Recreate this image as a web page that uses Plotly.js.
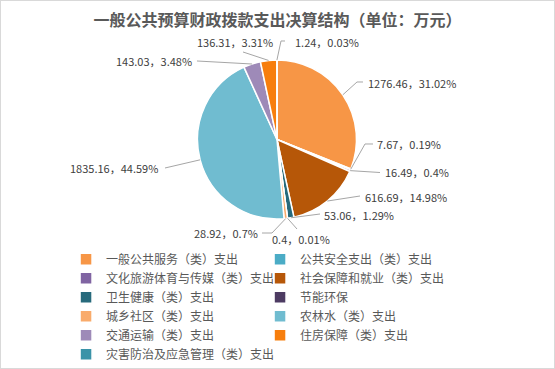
<!DOCTYPE html>
<html>
<head>
<meta charset="utf-8">
<script src="https://cdn.plot.ly/plotly-3.0.1.min.js"></script>
<style>
html,body{margin:0;padding:0;background:#fff;}
#wrap{position:relative;width:555px;height:369px;}
#chart{position:absolute;left:0;top:0;width:555px;height:369px;}
#frame{position:absolute;left:0;top:0;width:555px;height:369px;border:1px solid #d9d9d9;box-sizing:border-box;pointer-events:none;}
</style>
</head>
<body>
<div id="wrap"><div id="chart"></div><div id="frame"></div></div>
<script>
// ---- data ----
const categories = [
  "一般公共服务（类）支出",
  "公共安全支出（类）支出",
  "文化旅游体育与传媒（类）支出",
  "社会保障和就业（类）支出",
  "卫生健康（类）支出",
  "节能环保",
  "城乡社区（类）支出",
  "农林水（类）支出",
  "交通运输（类）支出",
  "住房保障（类）支出",
  "灾害防治及应急管理（类）支出"
];
const values = [1276.46, 7.67, 16.49, 616.69, 53.06, 0.4, 28.92, 1835.16, 143.03, 136.31, 1.24];
const valueLabels = ["1276.46", "7.67", "16.49", "616.69", "53.06", "0.4", "28.92", "1835.16", "143.03", "136.31", "1.24"];
const percentLabels = ["31.02%", "0.19%", "0.4%", "14.98%", "1.29%", "0.01%", "0.7%", "44.59%", "3.48%", "3.31%", "0.03%"];

// ---- styles / layout constants ----
const colors = ["#F79646", "#4BACC6", "#8064A2", "#B65708", "#276A7C", "#4D3B62", "#F9AB6B", "#70BCD0", "#9E8AB8", "#F77E0D", "#3A93A8"];
const W = 555, H = 369;
const CX = 277, CY = 139.5, R = 79.5;   // pie centre / radius in px
// data-label placement (px): text anchor point + leader-line points (label side first)
const labelPlace = [
  {x: 366, y: 83,  anchor: "left",  pts: [[363, 82], [357, 82]]},
  {x: 375, y: 144, anchor: "left",  pts: [[373, 144], [365, 144]]},
  {x: 383, y: 172, anchor: "left",  pts: [[380, 172.5]]},
  {x: 363, y: 197, anchor: "left",  pts: [[360, 196]]},
  {x: 322, y: 215, anchor: "left",  pts: [[320, 214]]},
  {x: 270, y: 239, anchor: "left",  pts: [[297, 229]]},
  {x: 260, y: 233, anchor: "right", pts: [[262, 233], [272, 233]]},
  {x: 160, y: 168, anchor: "right", pts: [[165, 168]]},
  {x: 194, y: 61,  anchor: "right", pts: [[197, 61]]},
  {x: 275, y: 42,  anchor: "right", pts: [[243, 52]]},
  {x: 293, y: 42,  anchor: "left",  pts: [[285, 41], [281, 41]]}
];

const px2x = v => v / W;
const px2y = v => 1 - v / H;

const total = values.reduce((a, b) => a + b, 0);
let cum = 0;
const annotations = [];
const shapes = [];
values.forEach((v, i) => {
  const mid = (cum + v / 2) / total;
  cum += v;
  const ang = mid * 2 * Math.PI;          // clockwise from 12 o'clock
  const ex = CX + R * Math.sin(ang);
  const ey = CY - R * Math.cos(ang);
  const p = labelPlace[i];
  const pts = p.pts.concat([[ex, ey]]);
  const path = pts.map((q, k) => (k === 0 ? "M" : "L") + px2x(q[0]).toFixed(5) + "," + px2y(q[1]).toFixed(5)).join(" ");
  shapes.push({type: "path", xref: "paper", yref: "paper", path: path,
               line: {color: "#A6A6A6", width: 1}});
  annotations.push({
    xref: "paper", yref: "paper",
    x: px2x(p.x), y: px2y(p.y),
    xanchor: p.anchor, yanchor: "middle",
    text: valueLabels[i] + "，" + percentLabels[i],
    showarrow: false,
    font: {family: "Noto Sans CJK SC", size: 11, color: "#404040"}
  });
});

const trace = {
  type: "pie",
  labels: categories,
  values: values,
  sort: false,
  direction: "clockwise",
  rotation: 0,
  textinfo: "none",
  textposition: "none",
  marker: {colors: colors, line: {color: "#ffffff", width: 1.5}},
  domain: {x: [(CX - R) / W, (CX + R) / W], y: [1 - (CY + R) / H, 1 - (CY - R) / H]},
  hoverinfo: "label+value+percent"
};

const layout = {
  width: W,
  height: H,
  margin: {l: 0, r: 0, t: 0, b: 0},
  paper_bgcolor: "#ffffff",
  font: {family: "Noto Sans CJK SC", color: "#595959"},
  title: {
    text: "<b>一般公共预算财政拨款支出决算结构（单位：万元）</b>",
    font: {family: "Noto Sans CJK SC", size: 16, color: "#595959"},
    x: 0.5, xanchor: "center", xref: "paper",
    y: px2y(20), yanchor: "middle", yref: "paper"
  },
  showlegend: true,
  legend: {
    orientation: "h",
    x: 0.119, xanchor: "left",
    y: 0.337, yanchor: "top",
    entrywidth: 149,
    entrywidthmode: "pixels",
    font: {family: "Noto Sans CJK SC", size: 12, color: "#595959"},
    traceorder: "normal",
    bgcolor: "rgba(0,0,0,0)"
  },
  annotations: annotations,
  shapes: shapes
};

Plotly.newPlot("chart", [trace], layout, {displayModeBar: false, staticPlot: true});
</script>
</body>
</html>
